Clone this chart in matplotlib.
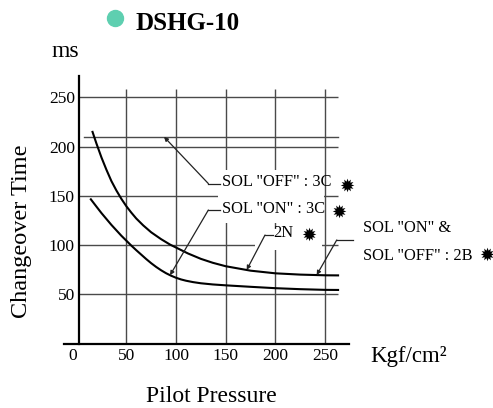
import matplotlib
matplotlib.use('Agg')
import matplotlib.pyplot as plt
from matplotlib.patches import Rectangle

plt.rcParams['font.family'] = ['Liberation Serif', 'DejaVu Sans']

# values (pressure Kgf/cm2 -> changeover time ms)
on3c_p = [14.3, 20, 25, 30, 35, 40, 45, 50, 55, 60, 65, 70, 75, 80, 85, 90, 95, 100, 105, 110,
          117, 125, 137, 150, 175, 200, 225, 250, 263]
on3c_t = [146.5, 139, 132.5, 126.5, 120.5, 115, 109.5, 104.5, 99.5, 94.8, 90.3, 85.8, 81.6, 77.8,
          74.4, 71.4, 68.9, 66.8, 65.1, 63.8, 62.4, 61.2, 60, 59.1, 57.6, 56.2, 55.2, 54.5, 54.4]

n2_p = [16, 20, 25, 30, 35, 40, 45, 50, 55, 60, 67, 75, 85, 94, 100, 112, 125, 137, 150, 175,
        200, 225, 250, 263]
n2_t = [215, 203, 189, 176.5, 165, 155.5, 147, 139.5, 133, 127, 120, 113, 106, 100.5, 97.5, 91.5,
        86, 82, 78.5, 74, 71.3, 70, 69.3, 69.2]

off3c_p = [7.7, 263]
off3c_t = [210, 210]

grid_vals = [50, 100, 150, 200, 250]
xtick_vals = [0, 50, 100, 150, 200, 250]

fig = plt.figure(figsize=(4.93, 4.08), dpi=100)
ax = fig.add_axes([64 / 493, 1 - 343.5 / 408, 285 / 493, 267.5 / 408])
ax.set_xlim(-12.7, 274)
ax.set_ylim(0, 271.8)

gcol = '#4a4a4a'
ax.vlines(grid_vals, 0, 259, color=gcol, lw=1.0, zorder=1)
ax.hlines(grid_vals, 2.5, 263, color=gcol, lw=1.0, zorder=1)

# white gaps behind the labels
ax.add_patch(Rectangle((142.2, 122.4), 106.5, 53.9, fc='white', ec='none', zorder=2))
ax.add_patch(Rectangle((179.5, 95), 67.4, 21.3, fc='white', ec='none', zorder=2))

ax.plot(off3c_p, off3c_t, color=gcol, lw=1.0, zorder=3)
ax.plot(n2_p, n2_t, color='black', lw=1.5, zorder=3)
ax.plot(on3c_p, on3c_t, color='black', lw=1.5, zorder=3)

for s in ['top', 'right']:
    ax.spines[s].set_visible(False)
ax.spines['left'].set_position(('data', 2.5))
ax.spines['bottom'].set_position(('data', 0))
ax.spines['left'].set_linewidth(1.6)
ax.spines['bottom'].set_linewidth(1.6)

ax.set_xticks(xtick_vals)
ax.set_xticklabels([str(v) for v in xtick_vals])
ax.get_xticklabels()[0].set_ha('right')
ax.set_yticks(grid_vals)
ax.set_yticklabels([str(v) for v in grid_vals])
ax.tick_params(axis='x', length=0, pad=3, labelsize=12.5)
ax.tick_params(axis='y', length=0, pad=3, labelsize=12.5)

# leaders and labels
arr = dict(arrowstyle='-|>', color='#222222', lw=0.9, mutation_scale=6, shrinkA=0, shrinkB=0)
lfs = 11.8
star = '\u2739'

ax.plot([132.5, 144.4], [162.5, 162.5], color='#222222', lw=0.9, zorder=4)
ax.annotate('', xy=(87.9, 210), xytext=(132.5, 162.5), arrowprops=arr, zorder=4)
ax.text(146.3, 164.4, 'SOL "OFF" : 3C', fontsize=lfs, va='center', ha='left', zorder=5)
ax.text(271.7, 159.3, star, family='DejaVu Sans', fontsize=13, ha='center', va='center', clip_on=False)

ax.plot([132.5, 144.4], [135.6, 135.6], color='#222222', lw=0.9, zorder=4)
ax.annotate('', xy=(94, 69.4), xytext=(132.5, 135.6), arrowprops=arr, zorder=4)
ax.text(146.3, 137, 'SOL "ON" : 3C', fontsize=lfs, va='center', ha='left', zorder=5)
ax.text(264, 133.3, star, family='DejaVu Sans', fontsize=13, ha='center', va='center', clip_on=False)

ax.plot([189.5, 197.9], [110.2, 110.2], color='#222222', lw=0.9, zorder=4)
ax.annotate('', xy=(171.1, 74.8), xytext=(189.5, 110.2), arrowprops=arr, zorder=4)
ax.text(197.9, 112, '2N', fontsize=lfs, va='center', ha='left', zorder=5)
ax.text(233.1, 109.2, star, family='DejaVu Sans', fontsize=13, ha='center', va='center', clip_on=False)

ax.plot([261.7, 278.4], [105.2, 105.2], color='#222222', lw=0.9, zorder=4, clip_on=False)
ax.annotate('', xy=(241.5, 69.6), xytext=(261.7, 105.2), arrowprops=arr, zorder=4)
ax.text(288.1, 117.3, 'SOL "ON" &', fontsize=lfs, va='center', ha='left', clip_on=False)
ax.text(288.1, 88.9, 'SOL "OFF" : 2B', fontsize=lfs, va='center', ha='left', clip_on=False)
ax.text(412.6, 88.9, star, family='DejaVu Sans', fontsize=13, ha='center', va='center', clip_on=False)

# title and axis labels
fig.add_artist(plt.Line2D([115 / 493], [1 - 18.3 / 408], marker='o', markersize=11.5,
                          color='#5ecfb0', transform=fig.transFigure))
fig.text(135 / 493, 1 - 30 / 408, 'DSHG-10', fontsize=18, fontweight='bold', va='baseline', ha='left')
fig.text(52 / 493, 1 - 57 / 408, 'ms', fontsize=17, va='baseline', ha='left')
fig.text(370 / 493, 1 - 361.7 / 408, 'Kgf/cm\u00b2', fontsize=16.5, va='baseline', ha='left')
fig.text(211 / 493, 1 - 401.7 / 408, 'Pilot Pressure', fontsize=17, va='baseline', ha='center')
fig.text(21.5 / 493, 1 - 231 / 408, 'Changeover Time', fontsize=17.5, rotation=90, va='center', ha='center')

fig.savefig('out.png', dpi=100)
